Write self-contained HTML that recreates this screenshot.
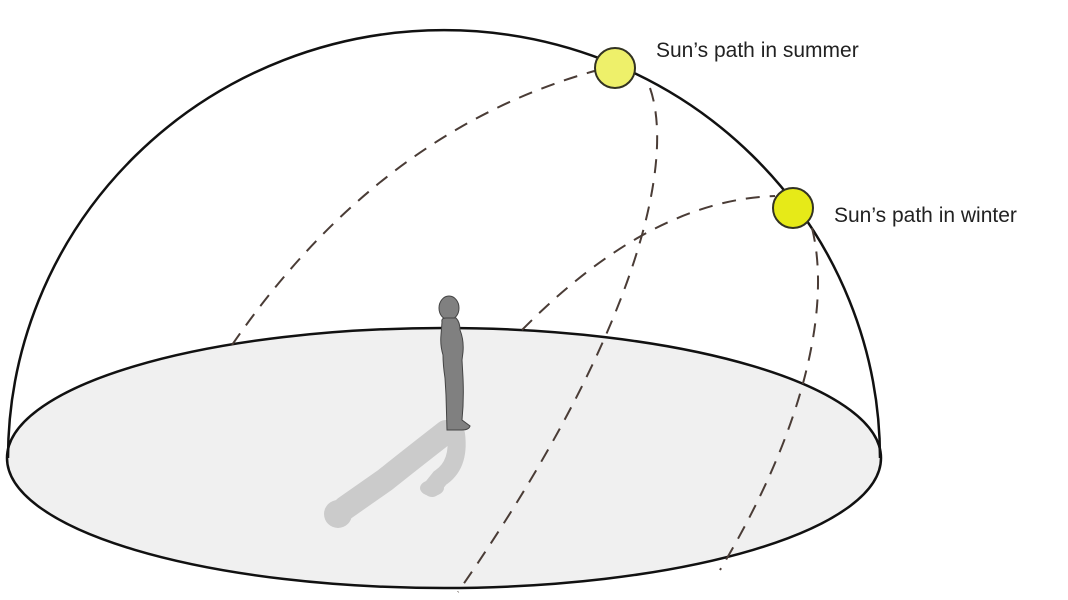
<!DOCTYPE html>
<html><head><style>
html,body{margin:0;padding:0;background:#fff;}
svg{display:block;}
text{font-family:"Liberation Sans",sans-serif;font-size:21px;fill:#222;}
</style></head><body>
<svg width="1068" height="600" viewBox="0 0 1068 600">
<ellipse cx="444" cy="458" rx="437" ry="130" fill="#f0f0f0" stroke="#111" stroke-width="2.5"/>
<path d="M8,458 A436,428 0 0 1 880,458" fill="none" stroke="#111" stroke-width="2.5"/>
<g fill="none" stroke="#4a3c36" stroke-width="2" stroke-dasharray="14,10">
<path d="M232,345 Q380,130 598,70"/>
<path d="M650,88 C675,160 640,330 458,592"/>
<path d="M522,330 Q650,200 775,196"/>
<path d="M812,228 C830,300 810,420 720,570"/>
</g>
<!-- shadow -->
<g stroke="#cbcbcb" fill="none" stroke-linecap="round">
<path d="M446,432 Q410,460 385,480 L345,508" stroke-width="24"/>
<path d="M456,434 Q460,465 440,478 L432,488" stroke-width="18"/>
</g>
<circle cx="338" cy="514" r="14" fill="#cbcbcb"/>
<ellipse cx="432" cy="488" rx="12" ry="8" fill="#cbcbcb"/>
<!-- person -->
<g fill="#808080" stroke="#444" stroke-width="1">
<ellipse cx="449" cy="308" rx="10" ry="12"/>
<path d="M442,322 Q441,318 446,318 L456,318 Q460,322 460,330 Q464,340 463,352 L462,360 L463,378 Q464,400 462,420 L470,426 Q469,430 462,430 L447,430 L446,395 L445,378 Q443,365 443,355 Q440,345 441,335 Z"/>
</g>
<circle cx="615" cy="68" r="20" fill="#eef06a" stroke="#332" stroke-width="2"/>
<circle cx="793" cy="208" r="20" fill="#e6ea18" stroke="#332" stroke-width="2"/>
<text x="656" y="57">Sun’s path in summer</text>
<text x="834" y="222">Sun’s path in winter</text>
</svg>
</body></html>
